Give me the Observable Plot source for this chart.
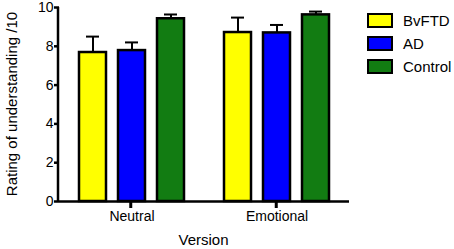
<!DOCTYPE html>
<html>
<head>
<meta charset="utf-8">
<script src="https://cdn.jsdelivr.net/npm/d3@7"></script>
<script src="https://cdn.jsdelivr.net/npm/@observablehq/plot@0.6"></script>
<style>
  body { margin: 0; background: #fff; }
  #wrap { position: relative; width: 454px; height: 249px; font-family: "Liberation Sans", Arial, sans-serif; }
  .leg { position: absolute; left: 367px; display: flex; align-items: center; font-size: 15px; color: #000; }
  .sw { width: 22px; height: 11px; border: 2px solid #000; margin-right: 10px; }
</style>
</head>
<body>
<div id="wrap"></div>
<script>
const versions = ["Neutral", "Emotional"];
const groups = ["BvFTD", "AD", "Control"];
const colors = ["#ffff00", "#0000ff", "#127c12"];
const means = {
  Neutral:   [7.68, 7.78, 9.42],
  Emotional: [8.71, 8.69, 9.62]
};
const errTops = {
  Neutral:   [8.50, 8.20, 9.64],
  Emotional: [9.48, 9.10, 9.79]
};
const yTicks = [0, 2, 4, 6, 8, 10];

const data = [];
for (const v of versions) {
  groups.forEach((g, i) => data.push({version: v, group: g, mean: means[v][i], hi: errTops[v][i]}));
}

const W = 454, H = 249, ML = 58, MR = 105, MT = 7, MB = 48;

const chart = Plot.plot({
  width: W, height: H,
  marginLeft: ML, marginRight: MR, marginTop: MT, marginBottom: MB,
  style: {fontFamily: "Liberation Sans, Arial, sans-serif", fontSize: "13px", color: "#000", background: "#fff"},
  fx: {domain: versions, padding: 0, label: null, axis: null},
  x: {domain: groups, paddingInner: 0.32, paddingOuter: 0.48, axis: null},
  y: {domain: [0, 10], label: null},
  color: {domain: groups, range: colors},
  marks: [
    Plot.ruleX(data, {fx: "version", x: "group", y1: "mean", y2: "hi", stroke: "#000", strokeWidth: 2}),
    Plot.tickY(data, {fx: "version", x: "group", y: "hi", stroke: "#000", strokeWidth: 2, insetLeft: 7, insetRight: 7}),
    Plot.barY(data, {fx: "version", x: "group", y: "mean", fill: "group", stroke: "#000", strokeWidth: 2.5}),
    Plot.ruleY([0], {stroke: "#000", strokeWidth: 2.5}),
    Plot.axisY({ticks: yTicks, tickSize: 5, tickPadding: 1, fontSize: 14, strokeWidth: 2.5, label: null}),
    Plot.axisFx({anchor: "bottom", tickSize: 0, tickPadding: 10, fontSize: 14, label: null})
  ]
});

const wrap = document.getElementById("wrap");
wrap.appendChild(chart);

const svg = d3.select(wrap).select("svg");
// y-axis domain line
svg.append("line")
  .attr("x1", ML).attr("x2", ML)
  .attr("y1", MT).attr("y2", H - MB + 1)
  .attr("stroke", "#000").attr("stroke-width", 2.5);

// facet tick marks below the baseline, at each version's centre
const fxW = (W - ML - MR) / versions.length;
versions.forEach((v, i) => {
  const cx = ML + fxW * (i + 0.5);
  svg.append("line")
    .attr("x1", cx).attr("x2", cx)
    .attr("y1", H - MB - 1).attr("y2", H - MB + 7)
    .attr("stroke", "#000").attr("stroke-width", 3)
    .style("stroke", "#000").style("stroke-width", "3px");
});

svg.append("text")
  .attr("transform", `translate(13,${(MT + H - MB) / 2}) rotate(-90)`)
  .attr("text-anchor", "middle").attr("dominant-baseline", "middle")
  .attr("font-size", 15).attr("fill", "#000")
  .text("Rating of understanding /10");

svg.append("text")
  .attr("x", (ML + W - MR) / 2).attr("y", 241)
  .attr("text-anchor", "middle").attr("dominant-baseline", "middle")
  .attr("font-size", 15).attr("fill", "#000")
  .text("Version");

groups.forEach((g, i) => {
  const d = document.createElement("div");
  d.className = "leg";
  d.style.top = (12 + i * 23) + "px";
  d.innerHTML = `<div class="sw" style="background:${colors[i]}"></div><span>${g}</span>`;
  wrap.appendChild(d);
});
</script>
</body>
</html>
